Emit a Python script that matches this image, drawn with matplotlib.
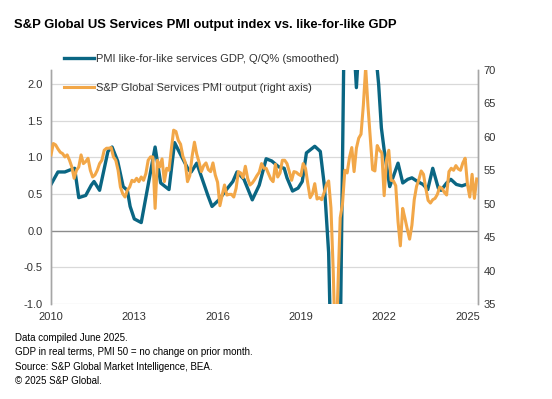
import matplotlib
matplotlib.use("Agg")
import matplotlib.pyplot as plt
from matplotlib.lines import Line2D

plt.rcParams['font.family'] = ['Liberation Sans', 'DejaVu Sans']

# S&P Global Services PMI output, monthly from Jan 2010 to May 2025
pmi = [
    57.3, 59.0, 58.8, 58.2, 57.7, 57.5, 57.0, 57.3, 56.5, 55.5, 53.8, 55.0,  # 2010
    55.5, 57.3, 56.0, 56.3, 56.8, 55.0, 54.0, 54.3, 55.0, 56.0, 56.5, 58.0,  # 2011
    58.3, 58.3, 58.4, 57.0, 56.5, 55.0, 52.5, 51.5, 51.0, 52.0, 52.5, 53.5,  # 2012
    53.3, 53.8, 53.3, 54.0, 53.5, 54.5, 56.5, 57.0, 57.0, 49.3, 56.5, 55.5,  # 2013
    56.7, 53.3, 55.3, 55.0, 58.1, 61.0, 60.8, 59.5, 58.9, 57.1, 56.2, 53.3,  # 2014
    54.2, 57.1, 59.2, 57.4, 56.2, 54.8, 55.7, 56.1, 55.1, 54.8, 56.1, 54.3,  # 2015
    53.2, 49.7, 51.3, 52.8, 51.3, 51.4, 51.4, 51.0, 52.3, 54.8, 54.6, 53.9,  # 2016
    55.6, 53.8, 52.8, 53.1, 53.6, 54.2, 54.7, 56.0, 55.3, 55.3, 54.5, 53.7,  # 2017
    53.3, 55.9, 54.0, 54.6, 56.5, 56.5, 56.0, 54.8, 53.5, 54.8, 54.7, 54.4,  # 2018
    54.2, 56.0, 55.3, 53.0, 50.9, 51.5, 53.0, 50.7, 50.9, 50.6, 51.6, 52.8,  # 2019
    53.4, 49.4, 39.8, 26.7, 37.5, 47.9, 50.0, 55.0, 54.6, 56.9, 58.4, 54.8,  # 2020
    58.3, 59.8, 60.4, 64.7, 70.4, 64.6, 59.9, 55.1, 54.9, 58.7, 58.0, 57.6,  # 2021
    51.2, 56.5, 58.0, 53.5, 53.4, 52.7, 47.3, 43.7, 49.3, 47.8, 46.2, 44.7,  # 2022
    46.8, 50.6, 52.6, 53.6, 54.9, 54.4, 52.3, 50.5, 50.1, 50.6, 50.8, 51.4,  # 2023
    52.5, 52.3, 51.7, 51.3, 54.8, 55.3, 55.0, 55.7, 55.2, 55.0, 56.1, 56.8,  # 2024
    52.9, 51.0, 54.4, 50.8, 53.7,                                            # 2025
]
pmi_x = [2010 + m / 12 for m in range(len(pmi))]

# PMI like-for-like services GDP, Q/Q% (smoothed), read at these dates
gdp_x = [
    2010.0, 2010.25, 2010.5, 2010.7, 2010.85, 2011.0, 2011.25, 2011.45, 2011.55, 2011.75,
    2012.05, 2012.2, 2012.4, 2012.6, 2012.75, 2012.85, 2013.0, 2013.25, 2013.75, 2013.95,
    2014.25, 2014.45, 2014.65, 2014.95, 2015.05, 2015.25, 2015.45, 2015.65, 2015.8, 2016.05,
    2016.3, 2016.55, 2016.7, 2016.95, 2017.25, 2017.5, 2017.75, 2017.95, 2018.2, 2018.4,
    2018.5, 2018.7, 2018.9, 2019.05, 2019.2, 2019.5, 2019.7, 2019.85, 2020.0, 2020.1,
    2020.3, 2020.42, 2020.55, 2020.75, 2020.9, 2021.0, 2021.1, 2021.35, 2021.6, 2021.8,
    2021.9, 2022.0, 2022.2, 2022.5, 2022.67, 2022.85, 2023.0, 2023.2, 2023.4, 2023.57,
    2023.75, 2023.95, 2024.05, 2024.25, 2024.4, 2024.6, 2024.8, 2024.95,
]
gdp = [
    0.63, 0.80, 0.80, 0.83, 0.85, 0.45, 0.48, 0.62, 0.67, 0.55,
    1.08, 1.14, 0.95, 0.60, 0.55, 0.33, 0.16, 0.11, 1.14, 0.65,
    0.56, 1.20, 1.05, 0.83, 0.80, 0.92, 0.70, 0.48, 0.33, 0.42,
    0.55, 0.67, 0.80, 0.70, 0.42, 0.62, 0.98, 0.95, 0.87, 0.85,
    0.72, 0.54, 0.58, 0.67, 1.06, 1.15, 1.08, 0.60, -0.30, -2.0,
    -3.5, -1.5, 2.5, 3.5, 2.6, 1.95, 2.6, 3.5, 2.8, 2.0,
    1.4, 1.1, 0.60, 0.92, 0.65, 0.70, 0.72, 0.67, 0.63, 0.56,
    0.85, 0.58, 0.55, 0.65, 0.70, 0.63, 0.61, 0.63,
]

year_ticks = [2010, 2013, 2016, 2019, 2022, 2025]
left_ticks = [-1.0, -0.5, 0.0, 0.5, 1.0, 1.5, 2.0]
right_ticks = [35, 40, 45, 50, 55, 60, 65, 70]

teal = '#0A6683'
orange = '#F2A748'
grid_col = '#D9D9D9'
txt_col = '#333333'

fig = plt.figure(figsize=(5.52, 3.99), dpi=100)
ax = fig.add_axes([51 / 552, 1 - 304 / 399, 427 / 552, 234 / 399])
ax2 = ax.twinx()

ax.set_xlim(2010, 2025.38)
ax.set_ylim(-1.0, 2.19)
ax2.set_ylim(35, 70)

for v in left_ticks:
    if v == 0:
        ax.axhline(v, color='#8C8C8C', lw=1.0, zorder=1)
    else:
        ax.axhline(v, color=grid_col, lw=0.9, zorder=1)

ax.plot(gdp_x, gdp, color=teal, lw=2.4, zorder=3, solid_joinstyle='round')
ax2.plot(pmi_x, pmi, color=orange, lw=2.2, zorder=3, solid_joinstyle='round')

ax.set_xticks(year_ticks)
ax.set_xticklabels([str(y) for y in year_ticks])
ax.set_yticks(left_ticks)
ax.set_yticklabels([f'{v:.1f}' for v in left_ticks])
ax2.set_yticks(right_ticks)

for a in (ax, ax2):
    for s in ('top', 'bottom'):
        a.spines[s].set_visible(False)
    a.spines['left'].set_color('#A6A6A6')
    a.spines['right'].set_color('#A6A6A6')
    a.spines['left'].set_linewidth(1.0)
    a.spines['right'].set_linewidth(1.0)
    a.tick_params(length=0, labelsize=8, labelcolor=txt_col)
ax.tick_params(axis='y', pad=6)
ax.tick_params(axis='x', pad=6)
ax2.tick_params(axis='y', pad=4)

handles = [Line2D([], [], color=teal, lw=2.4), Line2D([], [], color=orange, lw=2.2)]
labels = ['PMI like-for-like services GDP, Q/Q% (smoothed)',
          'S&P Global Services PMI output (right axis)']
fig.legend(handles, labels, loc='upper left', bbox_to_anchor=(64 / 552, 1 - 54 / 399),
           frameon=False, fontsize=8, handlelength=2.7, handletextpad=0.2,
           labelspacing=1.7, borderpad=0, borderaxespad=0, labelcolor=txt_col)

fig.text(14 / 552, 1 - 28 / 399,
         'S&P Global US Services PMI output index vs. like-for-like GDP',
         fontsize=9.4, fontweight='bold', color='#000000', va='baseline')

notes = ['Data compiled June 2025.',
         'GDP in real terms, PMI 50 = no change on prior month.',
         'Source: S&P Global Market Intelligence, BEA.',
         '\u00a9 2025 S&P Global.']
for i, line in enumerate(notes):
    fig.text(15 / 552, 1 - (338 + i * 14.3) / 399, line, fontsize=7, color='#000000', va='center')

fig.savefig('out.png', dpi=100)
